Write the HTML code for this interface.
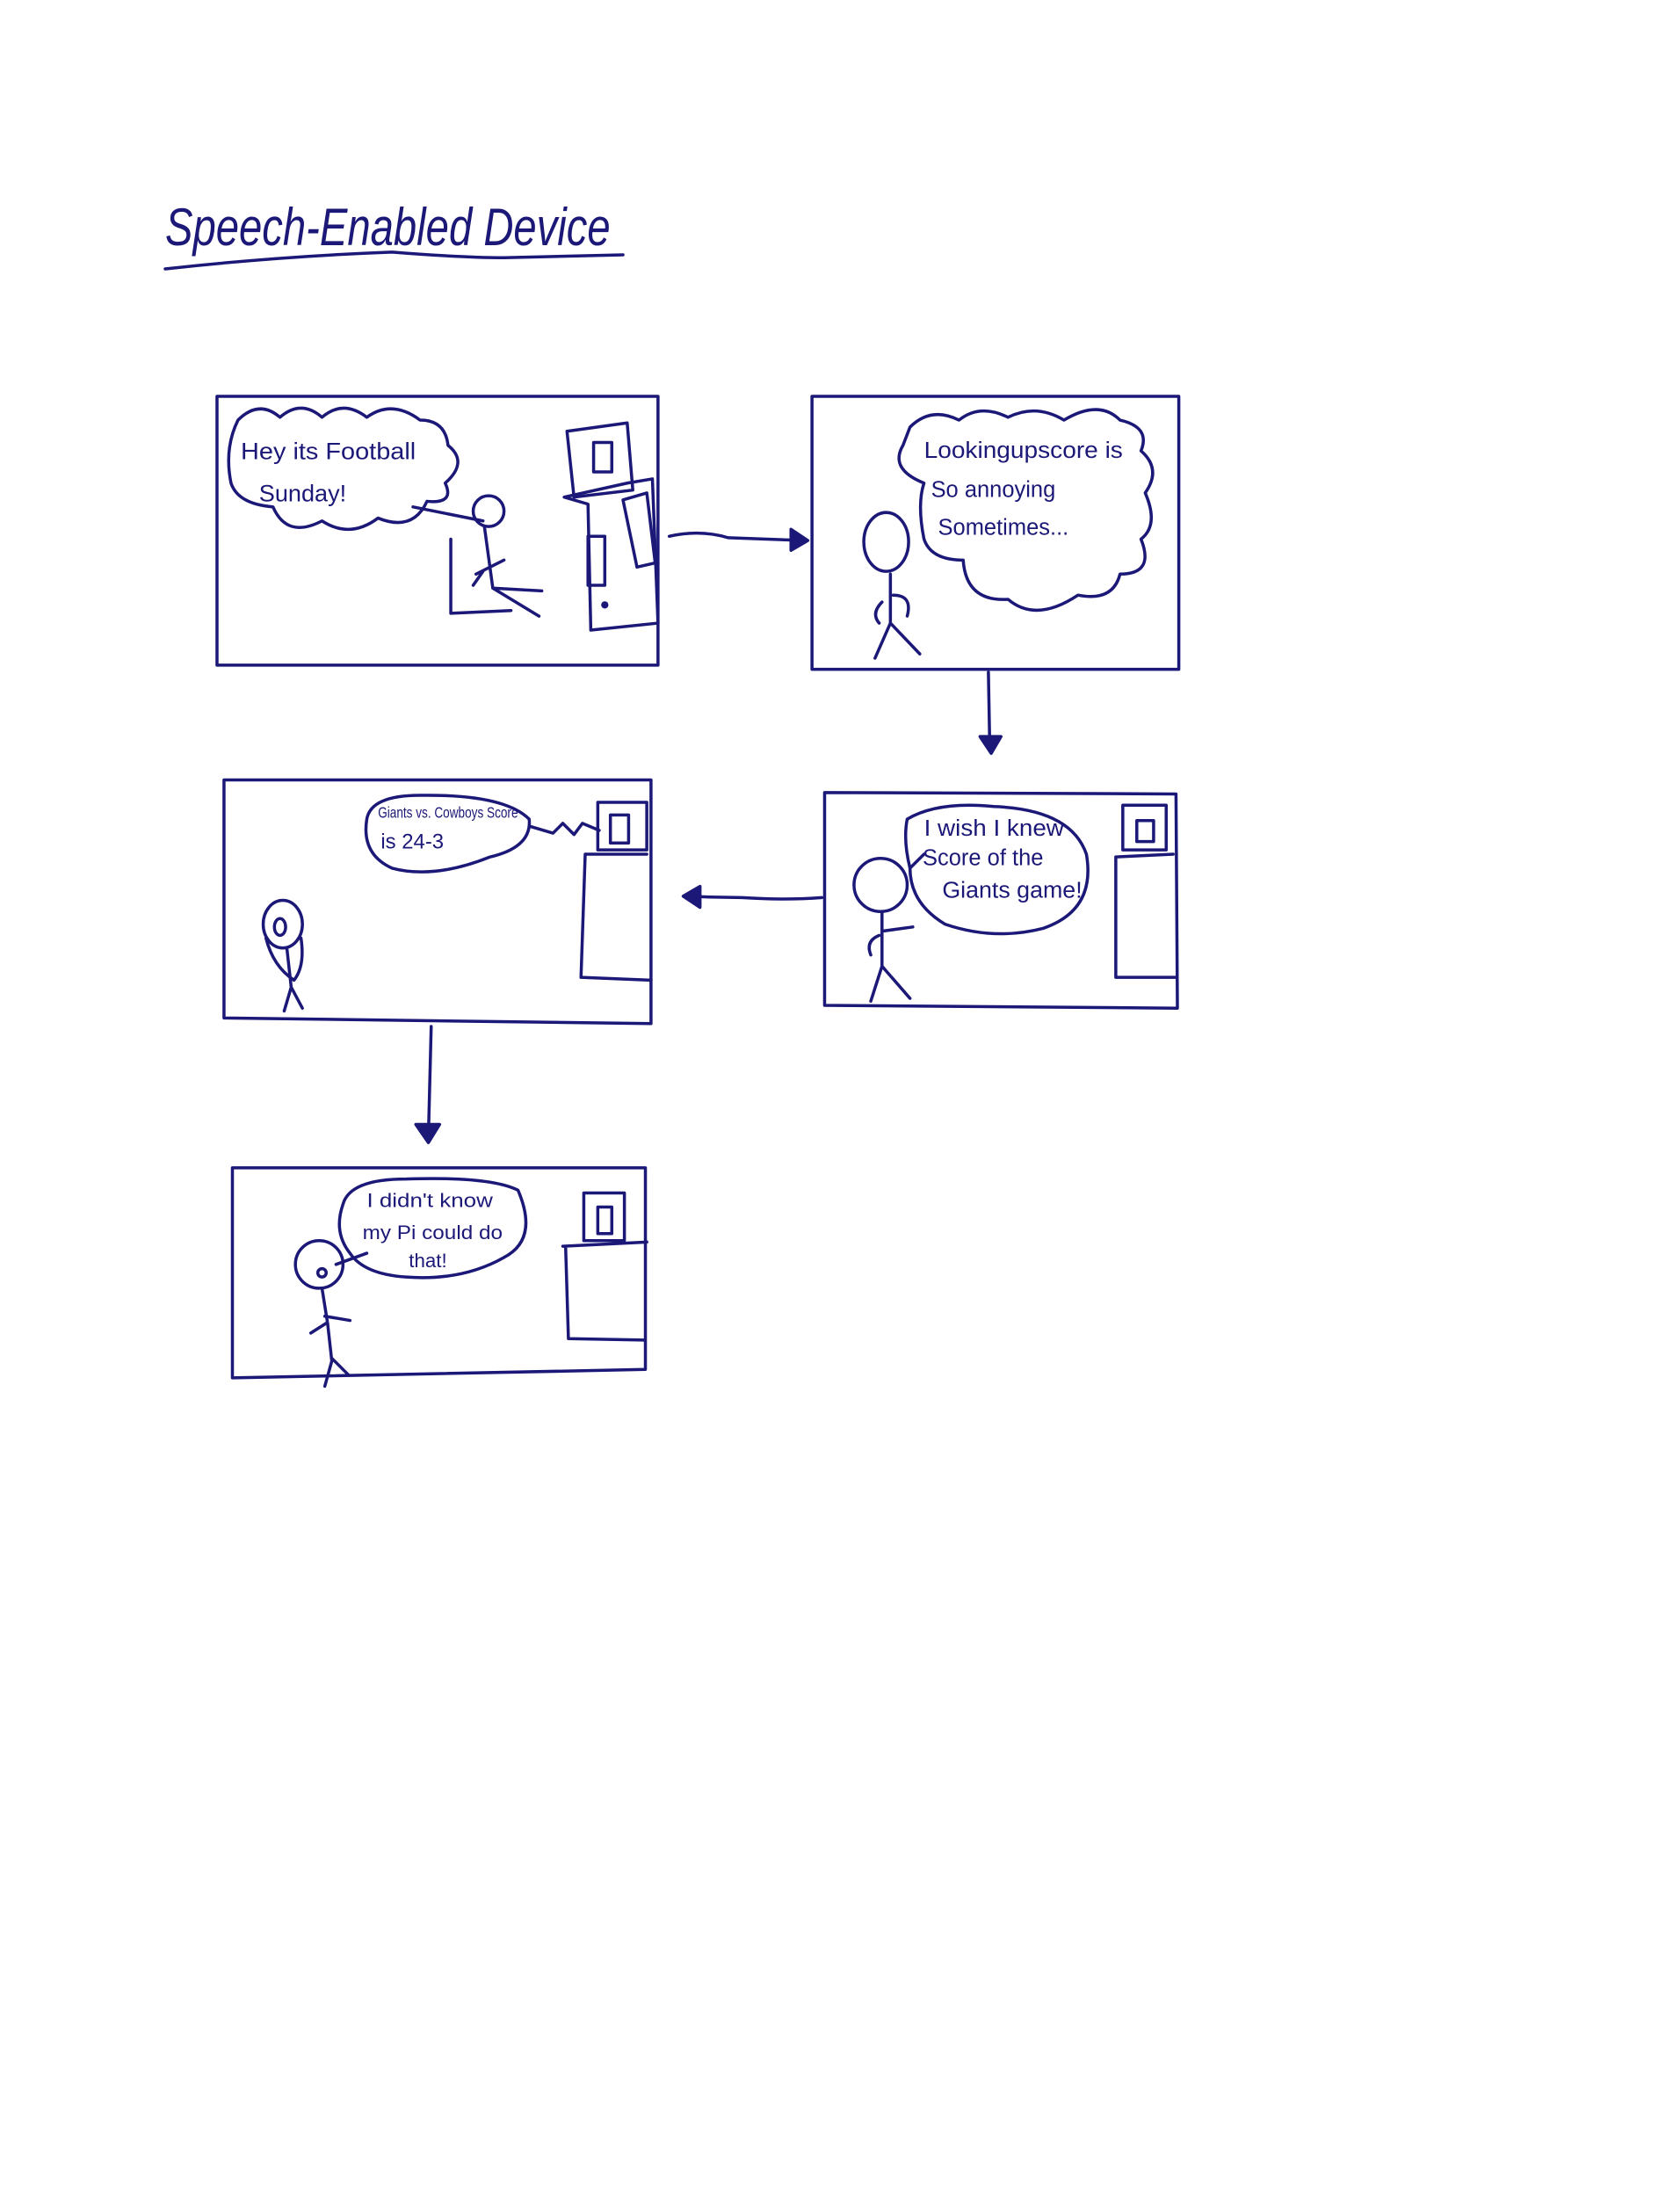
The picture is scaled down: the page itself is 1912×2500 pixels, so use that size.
<!DOCTYPE html>
<html><head><meta charset="utf-8"><style>
html,body{margin:0;padding:0;background:#fff;}
svg{display:block;}
text{font-family:"Liberation Sans",sans-serif;fill:#1c1878;}
</style></head><body>
<svg width="1912" height="2500" viewBox="0 0 1200 1569" xmlns="http://www.w3.org/2000/svg">
<g fill="none" stroke="#1c1878" stroke-width="2.2" stroke-linecap="round" stroke-linejoin="round">
<!-- title underline -->
<path d="M118 192 Q200 183 280 180 Q330 184 360 184 Q400 183 445 182"/>
<!-- Panel 1 -->
<rect x="155" y="283" width="315" height="192"/>
<path d="M170 300 Q185 285 200 298 Q215 285 230 298 Q245 285 262 298 Q280 285 300 300 Q318 300 320 318 Q335 330 318 345 Q325 360 305 358 Q295 380 270 370 Q250 385 230 372 Q205 385 195 362 Q170 360 165 345 Q160 320 170 300Z"/>
<path d="M295 362 L345 372"/>
<circle cx="349" cy="365" r="11"/>
<path d="M346 376 L352 420 L387 422 M352 420 L385 440 M340 410 L360 400 M345 408 L338 418"/>
<path d="M322 385 L322 438 L365 436"/>
<path d="M405 308 L448 302 L452 350 L410 355Z"/>
<rect x="424" y="316" width="13" height="21"/>
<path d="M403 355 L448 345 L466 342 L470 445 L422 450 L420 360Z"/>
<rect x="420" y="383" width="12" height="35"/>
<circle cx="432" cy="432" r="1.5" fill="#1c1878"/>
<path d="M445 357 L462 352 L468 402 L455 405Z"/>
<!-- arrow 1 -->
<path d="M478 383 Q500 378 520 384 Q550 385 575 386"/>
<path d="M565 378 L577 386 L565 393Z" fill="#1c1878"/>
<!-- Panel 2 -->
<rect x="580" y="283" width="262" height="195"/>
<path d="M650 305 Q665 290 685 300 Q700 288 720 298 Q740 288 760 300 Q785 285 800 300 Q822 305 815 322 Q830 335 818 352 Q828 375 815 385 Q825 410 800 410 Q795 430 770 425 Q740 445 720 428 Q690 430 688 400 Q665 400 660 385 Q655 360 660 345 Q635 335 645 318Z"/>
<ellipse cx="633" cy="387" rx="16" ry="21"/>
<path d="M636 410 L636 445 M636 445 L625 470 M636 445 L657 467 M630 430 Q622 438 628 445 M638 425 Q652 425 648 440"/>
<!-- arrow 2 -->
<path d="M706 480 L707 535"/>
<path d="M700 526 L708 538 L715 526Z" fill="#1c1878"/>
<!-- Panel 3 -->
<path d="M589 566 L840 567 L841 720 L589 718Z"/>
<path d="M648 585 Q670 572 710 576 Q765 578 776 610 Q783 650 745 663 Q710 672 675 660 Q650 645 650 620 Q645 600 648 585Z"/>
<path d="M650 620 L660 610"/>
<circle cx="629" cy="632" r="19"/>
<path d="M630 651 L630 690 L622 715 M630 690 L650 713 M630 665 L652 662 M628 668 Q618 672 622 682"/>
<rect x="802" y="575" width="31" height="32"/>
<rect x="812" y="586" width="12" height="15"/>
<path d="M797 612 L838 610 M797 612 L797 698 L840 698"/>
<!-- arrow 3 -->
<path d="M587 641 Q560 643 530 641 Q510 641 490 640"/>
<path d="M500 633 L488 640 L500 648Z" fill="#1c1878"/>
<!-- Panel 4 -->
<path d="M160 557 L465 557 L465 731 L160 727Z"/>
<path d="M262 585 Q265 568 300 568 Q360 567 378 585 Q380 605 350 612 Q310 628 280 620 Q258 610 262 585Z"/>
<path d="M378 590 L395 595 L402 588 L410 596 L416 588 L428 593"/>
<rect x="427" y="573" width="35" height="34"/>
<rect x="436" y="582" width="13" height="20"/>
<path d="M418 610 L462 610 M418 610 L415 698 L465 700"/>
<ellipse cx="202" cy="660" rx="14" ry="17"/>
<ellipse cx="200" cy="662" rx="4" ry="6"/>
<path d="M190 670 Q195 690 210 700 Q218 690 215 670 M205 678 L208 705 L203 722 M208 705 L216 720"/>
<!-- arrow 4 -->
<path d="M308 733 L306 812"/>
<path d="M297 803 L306 816 L314 803Z" fill="#1c1878"/>
<!-- Panel 5 -->
<path d="M166 834 L461 834 L461 978 L166 984Z"/>
<path d="M245 860 Q250 842 290 842 Q350 840 370 850 Q385 885 360 898 Q330 915 290 912 Q260 910 250 895 Q238 880 245 860Z"/>
<path d="M240 903 L262 895"/>
<circle cx="228" cy="903" r="17"/>
<circle cx="230" cy="909" r="3"/>
<path d="M230 920 L234 945 L237 972 L232 990 M237 970 L249 982 M232 940 L250 943 M233 945 L222 952"/>
<rect x="417" y="852" width="29" height="34"/>
<rect x="427" y="862" width="10" height="19"/>
<path d="M402 890 L462 887 M404 890 L406 956 L460 957"/>
</g>
<text x="118" y="175" font-size="38" font-style="italic" textLength="318" lengthAdjust="spacingAndGlyphs">Speech-Enabled Device</text>
<text x="172" y="328" font-size="17" textLength="125" lengthAdjust="spacingAndGlyphs">Hey its Football</text>
<text x="185" y="358" font-size="17">Sunday!</text>
<text x="660" y="327" font-size="16" textLength="142" lengthAdjust="spacingAndGlyphs">Lookingupscore is</text>
<text x="665" y="355" font-size="16">So annoying</text>
<text x="670" y="382" font-size="16">Sometimes...</text>
<text x="660" y="597" font-size="16" textLength="100" lengthAdjust="spacingAndGlyphs">I wish I knew</text>
<text x="659" y="618" font-size="16">Score of the</text>
<text x="673" y="641" font-size="16" textLength="100" lengthAdjust="spacingAndGlyphs">Giants game!</text>
<text x="270" y="584" font-size="11" textLength="100" lengthAdjust="spacingAndGlyphs">Giants vs. Cowboys Score</text>
<text x="272" y="606" font-size="15">is 24-3</text>
<text x="262" y="862" font-size="14" textLength="90" lengthAdjust="spacingAndGlyphs">I didn't know</text>
<text x="259" y="885" font-size="14" textLength="100" lengthAdjust="spacingAndGlyphs">my Pi could do</text>
<text x="292" y="905" font-size="14">that!</text>
</svg>
</body></html>
